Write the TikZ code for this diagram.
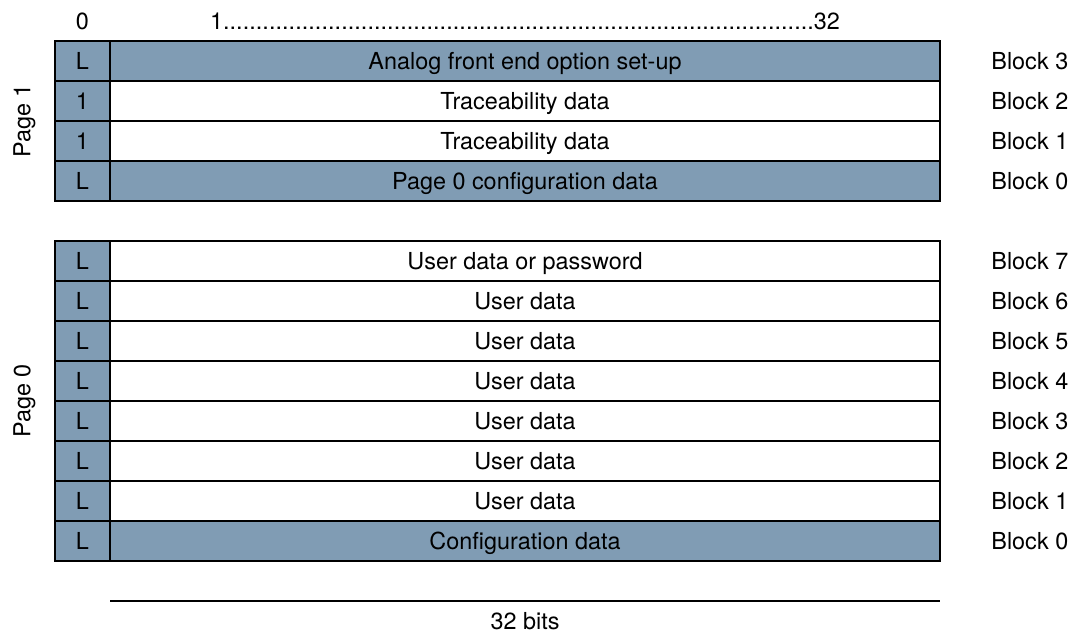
\documentclass[tikz,border=0pt]{standalone}
\usepackage{fontspec}
\setmainfont{TeX Gyre Heros}
\usepackage{tikz}
\usetikzlibrary{positioning}

\definecolor{memblue}{RGB}{128,156,180}

\begin{document}
\begin{tikzpicture}
		[
			x=0.5pt, y=-0.5pt,
			font=\fontsize{11.7}{14}\selectfont,
			text height=8.4pt, text depth=0pt,
			bitcell/.style={draw, line width=1.4pt, fill=memblue, inner sep=0pt,
				minimum width=27.5pt, minimum height=20pt},
			datacell/.style={draw, line width=1.4pt, inner sep=0pt,
				minimum width=415pt, minimum height=20pt},
			shaded/.style={fill=memblue},
			plain/.style={fill=white},
			blocklabel/.style={draw=none, fill=none, anchor=west, inner sep=0pt}
		]

		\useasboundingbox (0,0) rectangle (1085,632);

		% bit numbering
		\node (bit0)  at (  82.5, 21 ) {0};
		\node (bits)  at ( 525.0, 21 ) {\hbox to 315pt{1\xleaders\hbox{.}\hfill 32}};

		% page 1
		\foreach \n/\y/\b/\s/\t/\k in
		{
			p1b3/61/L/shaded/Analog front end option set-up/3,
			p1b2/101/1/plain/Traceability data/2,
			p1b1/141/1/plain/Traceability data/1,
			p1b0/181/L/shaded/Page 0 configuration data/0}
		{
			\node[datacell,\s]	(\n)  at ( 525.0, \y ) {\t};
			\node[bitcell]		(\n bit) at (  82.5, \y ) {\b};
			\node[blocklabel]	(\n lbl) at ( 991.0, \y ) {Block \k};
		}

		% page 0
		\foreach \n/\y/\s/\t/\k in
		{
			p0b7/261/plain/User data or password/7,
			p0b6/301/plain/User data/6,
			p0b5/341/plain/User data/5,
			p0b4/381/plain/User data/4,
			p0b3/421/plain/User data/3,
			p0b2/461/plain/User data/2,
			p0b1/501/plain/User data/1,
			p0b0/541/shaded/Configuration data/0}
		{
			\node[datacell,\s]	(\n)  at ( 525.0, \y ) {\t};
			\node[bitcell]		(\n bit) at (  82.5, \y ) {L};
			\node[blocklabel]	(\n lbl) at ( 991.0, \y ) {Block \k};
		}

		% page labels
		\node[rotate=90] (page1) at ( 22, 121 ) {Page 1};
		\node[rotate=90] (page0) at ( 22, 401 ) {Page 0};

		% width
		\coordinate (wl) at ( 110, 601 );
		\coordinate (wr) at ( 940, 601 );
		\draw[line width=1.4pt] (wl) -- (wr);
		\node (width) at ( 525, 621 ) {32 bits};

	\end{tikzpicture}
\end{document}
